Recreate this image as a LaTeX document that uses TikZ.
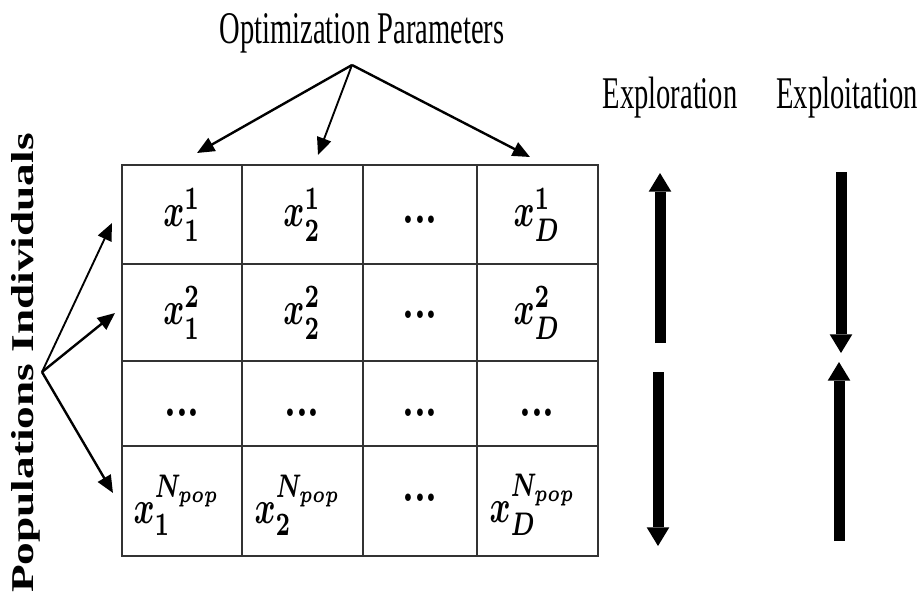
\documentclass[tikz,border=0pt]{standalone}
\usepackage{fontspec}
\usepackage{graphicx}
\usetikzlibrary{arrows.meta}
\newfontfamily\libser{Liberation Serif}
\newcommand{\sqz}[1]{\scalebox{0.63}[1]{#1}}
\newcommand{\cellm}[1]{\scalebox{2.4}[3.5]{\boldmath$#1$}}
\newcommand{\celld}{\scalebox{2.8}[3.6]{\bfseries ...}}
\begin{document}
\begin{tikzpicture}[x=0.75pt,y=-0.75pt,
  fanarrow/.style={line width=1.8pt, -{Triangle[length=13pt,width=11pt]}},
  bigarrow/.style={line width=8.25pt, -{Triangle[length=14pt,width=17pt,line width=0pt]}},
  gridline/.style={line width=1pt, draw=black!80},
  labeltext/.style={inner sep=0pt, font=\libser\fontsize{34}{36}\selectfont},
  cell/.style={inner sep=0pt}]
\path[use as bounding box] (0,0) rectangle (921,608);

% table grid
\draw[gridline] (122,165) rectangle (598,556);
\foreach \xx in {242,363,477} \draw[gridline] (\xx,165) -- (\xx,556);
\foreach \yy in {264,361,446} \draw[gridline] (122,\yy) -- (598,\yy);

% cells
\node[cell] (c11) at (182,215) {\cellm{x_1^1}};
\node[cell] (c12) at (302,215) {\cellm{x_2^1}};
\node[cell] (c13) at (420,220) {\celld};
\node[cell] (c14) at (537,215) {\cellm{x_D^1}};
\node[cell] (c21) at (182,313) {\cellm{x_1^2}};
\node[cell] (c22) at (302,313) {\cellm{x_2^2}};
\node[cell] (c23) at (420,315) {\celld};
\node[cell] (c24) at (537,313) {\cellm{x_D^2}};
\node[cell] (c31) at (182,413) {\celld};
\node[cell] (c32) at (302,413) {\celld};
\node[cell] (c33) at (420,413) {\celld};
\node[cell] (c34) at (537,413) {\celld};
\node[cell] (c41) at (177,505) {\cellm{x_1^{N_{pop}}}};
\node[cell] (c42) at (298,505) {\cellm{x_2^{N_{pop}}}};
\node[cell] (c43) at (420,498) {\celld};
\node[cell] (c44) at (533,505) {\cellm{x_D^{N_{pop}}}};

% labels
\node[labeltext, anchor=base] (opt) at (362,43) {\sqz{Optimization Parameters}};
\node[labeltext, anchor=base] (explor) at (670,108) {\sqz{Exploration}};
\node[labeltext, anchor=base] (exploit) at (847,108) {\sqz{Exploitation}};
\node[inner sep=0pt, rotate=90, anchor=base, font=\libser\bfseries\fontsize{34}{36}\selectfont] (pop) at (33,363) {\scalebox{1}[0.7]{Populations Individuals}};

% fan from optimization parameters
\coordinate (topsrc) at (352,65);
\coordinate (t1) at (197,153);
\coordinate (t2) at (318,155);
\coordinate (t3) at (530,157);
\draw[fanarrow] (topsrc) -- (t1);
\draw[fanarrow, line width=1.4pt] (topsrc) -- (t2);
\draw[fanarrow] (topsrc) -- (t3);

% fan from populations individuals
\coordinate (leftsrc) at (42,372);
\coordinate (l1) at (112,223);
\coordinate (l2) at (115,313);
\coordinate (l3) at (113,493);
\draw[fanarrow, line width=1.4pt] (leftsrc) -- (l1);
\draw[fanarrow] (leftsrc) -- (l2);
\draw[fanarrow] (leftsrc) -- (l3);

% exploration / exploitation arrows
\coordinate (e1a) at (660,343);
\coordinate (e1b) at (660,173);
\coordinate (e2a) at (658,372);
\coordinate (e2b) at (658,546);
\coordinate (f1a) at (841,172);
\coordinate (f1b) at (841,353);
\coordinate (f2a) at (839,541);
\coordinate (f2b) at (839,362);
\draw[bigarrow] (e1a) -- (e1b);
\draw[bigarrow] (e2a) -- (e2b);
\draw[bigarrow] (f1a) -- (f1b);
\draw[bigarrow] (f2a) -- (f2b);
\end{tikzpicture}
\end{document}
